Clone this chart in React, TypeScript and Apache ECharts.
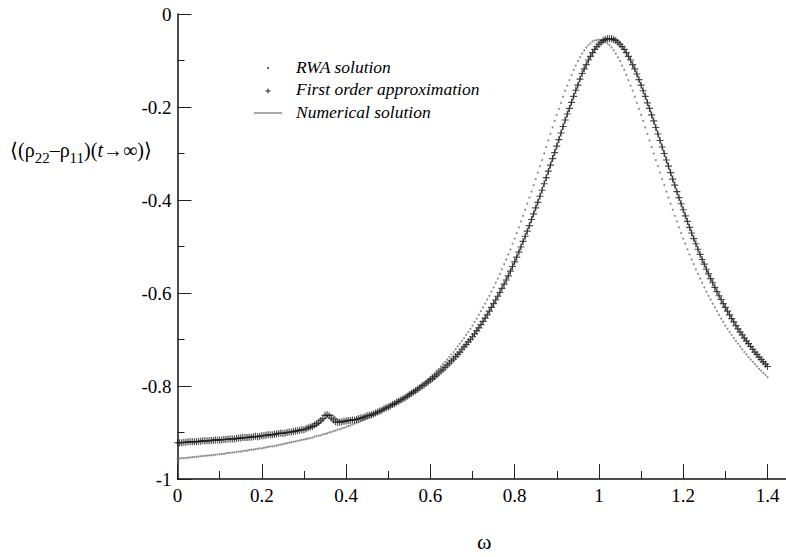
import React, { useEffect, useRef } from "react";
import * as echarts from "echarts";

// omega sampled from 0 to 1.40 in steps of 0.01, plus the in-between samples at 0.005 + 0.01k
const OMEGA_START = 0;
const OMEGA_MID_START = 0.005;
const OMEGA_STEP = 0.01;

const rwaSolution = [
  -0.956, -0.955, -0.955, -0.954, -0.953, -0.952, -0.951, -0.950, -0.949, -0.948,
  -0.947, -0.946, -0.944, -0.943, -0.942, -0.941, -0.939, -0.938, -0.937, -0.935,
  -0.934, -0.932, -0.930, -0.929, -0.927, -0.925, -0.923, -0.921, -0.919, -0.917,
  -0.915, -0.913, -0.911, -0.908, -0.906, -0.903, -0.900, -0.897, -0.894, -0.891,
  -0.888, -0.885, -0.881, -0.878, -0.874, -0.870, -0.866, -0.861, -0.857, -0.852,
  -0.847, -0.842, -0.836, -0.830, -0.824, -0.818, -0.811, -0.804, -0.797, -0.789,
  -0.781, -0.772, -0.763, -0.753, -0.743, -0.732, -0.721, -0.709, -0.697, -0.684,
  -0.670, -0.655, -0.639, -0.623, -0.606, -0.588, -0.569, -0.549, -0.528, -0.506,
  -0.483, -0.459, -0.434, -0.408, -0.382, -0.355, -0.327, -0.300, -0.272, -0.244,
  -0.217, -0.191, -0.165, -0.142, -0.120, -0.101, -0.085, -0.072, -0.063, -0.057,
  -0.055,
  -0.057, -0.063, -0.072, -0.085, -0.101, -0.120, -0.142, -0.165, -0.191, -0.217,
  -0.244, -0.272, -0.300, -0.327, -0.355, -0.382, -0.408, -0.434, -0.459, -0.483,
  -0.506, -0.528, -0.549, -0.569, -0.588, -0.606, -0.623, -0.639, -0.655, -0.670,
  -0.684, -0.697, -0.709, -0.721, -0.732, -0.743, -0.753, -0.763, -0.772, -0.781,
];

const rwaSolutionMid = [
  -0.956, -0.955, -0.954, -0.953, -0.952, -0.951, -0.950, -0.949, -0.948, -0.947,
  -0.946, -0.945, -0.944, -0.943, -0.941, -0.940, -0.939, -0.937, -0.936, -0.934,
  -0.933, -0.931, -0.930, -0.928, -0.926, -0.924, -0.922, -0.920, -0.918, -0.916,
  -0.914, -0.912, -0.909, -0.907, -0.904, -0.902, -0.899, -0.896, -0.893, -0.890,
  -0.886, -0.883, -0.879, -0.876, -0.872, -0.868, -0.863, -0.859, -0.854, -0.849,
  -0.844, -0.839, -0.833, -0.827, -0.821, -0.814, -0.808, -0.800, -0.793, -0.785,
  -0.776, -0.767, -0.758, -0.748, -0.738, -0.727, -0.715, -0.703, -0.690, -0.677,
  -0.662, -0.647, -0.631, -0.614, -0.597, -0.578, -0.559, -0.538, -0.517, -0.494,
  -0.471, -0.446, -0.421, -0.395, -0.368, -0.341, -0.314, -0.286, -0.258, -0.230,
  -0.204, -0.178, -0.154, -0.131, -0.111, -0.093, -0.078, -0.067, -0.059, -0.056,
  -0.056, -0.059, -0.067, -0.078, -0.093, -0.111, -0.131, -0.154, -0.178, -0.204,
  -0.230, -0.258, -0.286, -0.314, -0.341, -0.368, -0.395, -0.421, -0.446, -0.471,
  -0.494, -0.517, -0.538, -0.559, -0.578, -0.597, -0.614, -0.631, -0.647, -0.662,
  -0.677, -0.690, -0.703, -0.715, -0.727, -0.738, -0.748, -0.758, -0.767, -0.776,
];

const firstOrder = [
  -0.922, -0.922, -0.921, -0.920, -0.920, -0.919, -0.918, -0.918, -0.917, -0.916,
  -0.916, -0.915, -0.914, -0.914, -0.913, -0.912, -0.911, -0.910, -0.909, -0.909,
  -0.907, -0.906, -0.905, -0.904, -0.902, -0.902, -0.900, -0.899, -0.897, -0.895,
  -0.894, -0.890, -0.887, -0.881, -0.874, -0.863, -0.864, -0.873, -0.878, -0.877,
  -0.875, -0.874, -0.873, -0.870, -0.868, -0.864, -0.862, -0.858, -0.854, -0.849,
  -0.845, -0.840, -0.835, -0.830, -0.825, -0.819, -0.813, -0.807, -0.800, -0.794,
  -0.787, -0.780, -0.772, -0.764, -0.755, -0.746, -0.737, -0.727, -0.716, -0.705,
  -0.694, -0.681, -0.668, -0.654, -0.639, -0.623, -0.607, -0.590, -0.572, -0.553,
  -0.533, -0.512, -0.489, -0.467, -0.442, -0.417, -0.392, -0.365, -0.338, -0.311,
  -0.284, -0.256, -0.228, -0.203, -0.177, -0.153, -0.128, -0.109, -0.091, -0.076,
  -0.065,
  -0.057, -0.053, -0.053, -0.057, -0.065, -0.076, -0.091, -0.109, -0.129, -0.153,
  -0.177, -0.203, -0.230, -0.258, -0.286, -0.314, -0.341, -0.368, -0.395, -0.421,
  -0.446, -0.471, -0.494, -0.517, -0.538, -0.559, -0.578, -0.597, -0.614, -0.631,
  -0.647, -0.662, -0.677, -0.690, -0.703, -0.715, -0.727, -0.738, -0.748, -0.758,
];

const firstOrderMid = [
  -0.922, -0.921, -0.920, -0.920, -0.920, -0.919, -0.918, -0.918, -0.917, -0.916,
  -0.916, -0.915, -0.914, -0.914, -0.912, -0.911, -0.911, -0.910, -0.908, -0.908,
  -0.907, -0.905, -0.905, -0.903, -0.901, -0.901, -0.899, -0.898, -0.896, -0.894,
  -0.892, -0.888, -0.884, -0.878, -0.870, -0.862, -0.869, -0.877, -0.878, -0.876,
  -0.874, -0.873, -0.872, -0.869, -0.866, -0.863, -0.860, -0.856, -0.852, -0.847,
  -0.843, -0.838, -0.833, -0.828, -0.822, -0.816, -0.810, -0.804, -0.798, -0.791,
  -0.784, -0.776, -0.768, -0.760, -0.751, -0.742, -0.732, -0.721, -0.711, -0.700,
  -0.688, -0.675, -0.661, -0.647, -0.631, -0.615, -0.599, -0.581, -0.563, -0.543,
  -0.523, -0.501, -0.478, -0.455, -0.430, -0.405, -0.379, -0.352, -0.325, -0.298,
  -0.270, -0.242, -0.215, -0.190, -0.164, -0.140, -0.118, -0.099, -0.083, -0.070,
  -0.061, -0.055, -0.053, -0.055, -0.061, -0.070, -0.083, -0.099, -0.118, -0.141,
  -0.165, -0.191, -0.217, -0.244, -0.272, -0.300, -0.327, -0.355, -0.382, -0.408,
  -0.434, -0.459, -0.483, -0.506, -0.528, -0.549, -0.569, -0.588, -0.606, -0.623,
  -0.639, -0.655, -0.670, -0.684, -0.697, -0.709, -0.721, -0.732, -0.743, -0.753,
];

const numericalSolution = [
  -0.922, -0.922, -0.921, -0.920, -0.920, -0.919, -0.918, -0.918, -0.917, -0.916,
  -0.916, -0.915, -0.914, -0.914, -0.913, -0.912, -0.911, -0.910, -0.909, -0.909,
  -0.907, -0.906, -0.905, -0.904, -0.902, -0.902, -0.900, -0.899, -0.897, -0.895,
  -0.894, -0.892, -0.889, -0.885, -0.879, -0.870, -0.862, -0.863, -0.872, -0.877,
  -0.876, -0.874, -0.873, -0.870, -0.868, -0.864, -0.862, -0.858, -0.854, -0.849,
  -0.845, -0.840, -0.835, -0.830, -0.825, -0.819, -0.813, -0.807, -0.800, -0.794,
  -0.787, -0.780, -0.772, -0.764, -0.755, -0.746, -0.737, -0.727, -0.716, -0.705,
  -0.694, -0.681, -0.668, -0.654, -0.639, -0.623, -0.607, -0.590, -0.572, -0.553,
  -0.533, -0.512, -0.489, -0.467, -0.442, -0.417, -0.392, -0.365, -0.338, -0.311,
  -0.284, -0.256, -0.228, -0.203, -0.177, -0.153, -0.128, -0.109, -0.091, -0.076,
  -0.065,
  -0.057, -0.053, -0.053, -0.057, -0.065, -0.076, -0.091, -0.109, -0.129, -0.153,
  -0.177, -0.203, -0.230, -0.258, -0.286, -0.314, -0.341, -0.368, -0.395, -0.421,
  -0.446, -0.471, -0.494, -0.517, -0.538, -0.559, -0.578, -0.597, -0.614, -0.631,
  -0.647, -0.662, -0.677, -0.690, -0.703, -0.715, -0.727, -0.738, -0.748, -0.758,
];

const legendLabels = ["RWA solution", "First order approximation", "Numerical solution"];
const xAxisName = "ω";

const SERIF = "'Liberation Serif', 'Times New Roman', serif";
const PLUS_PATH =
  "path://M2.5,0 L3.5,0 L3.5,2.5 L6,2.5 L6,3.5 L3.5,3.5 L3.5,6 L2.5,6 L2.5,3.5 L0,3.5 L0,2.5 L2.5,2.5 Z";

const toPairs = (vals: number[], start: number) =>
  vals.map((v, i) => [+(start + i * OMEGA_STEP).toFixed(3), v]);

export default function App() {
  const ref = useRef<HTMLDivElement>(null);

  useEffect(() => {
    document.body.style.margin = "0";
    if (!ref.current) return;
    const chart = echarts.init(ref.current, undefined, { renderer: "svg" });

    const axisCommon = {
      axisLine: { show: true, onZero: false, lineStyle: { color: "#111", width: 1.5 } },
      splitLine: { show: false },
      axisLabel: { color: "#000", fontFamily: SERIF, fontSize: 19 },
    };

    const legendFont = { fontFamily: SERIF, fontStyle: "italic", fontSize: 17.5, fill: "#000" };

    chart.setOption({
      animation: false,
      backgroundColor: "#fff",
      textStyle: { fontFamily: SERIF },
      grid: { left: 177.5, right: 18.5, top: 14, bottom: 78, containLabel: false },
      xAxis: {
        type: "value",
        min: 0,
        max: 1.4,
        interval: 0.2,
        ...axisCommon,
        axisLabel: { ...axisCommon.axisLabel, margin: 7 },
        axisTick: { show: true, inside: true, length: 15, lineStyle: { color: "#222", width: 1 } },
        minorTick: { show: true, splitNumber: 2, length: 8, lineStyle: { color: "#222", width: 1 } },
      },
      yAxis: {
        type: "value",
        min: -1,
        max: 0,
        interval: 0.2,
        ...axisCommon,
        axisLabel: { ...axisCommon.axisLabel, margin: 6 },
        axisTick: { show: true, inside: true, length: 14, lineStyle: { color: "#222", width: 1 } },
        minorTick: { show: true, splitNumber: 2, length: 7, lineStyle: { color: "#222", width: 1 } },
      },
      series: [
        {
          name: legendLabels[0],
          type: "scatter",
          data: toPairs(rwaSolution, OMEGA_START).concat(toPairs(rwaSolutionMid, OMEGA_MID_START)),
          symbol: "circle",
          symbolSize: 2,
          itemStyle: { color: "#6e6e6e" },
          z: 2,
        },
        {
          name: legendLabels[2],
          type: "line",
          data: toPairs(numericalSolution, OMEGA_START),
          showSymbol: false,
          symbol: "none",
          lineStyle: { color: "#444", width: 1 },
          z: 3,
        },
        {
          name: legendLabels[1],
          type: "scatter",
          data: toPairs(firstOrder, OMEGA_START).concat(toPairs(firstOrderMid, OMEGA_MID_START)),
          symbol: PLUS_PATH,
          symbolSize: 7,
          symbolKeepAspect: true,
          itemStyle: { color: "#1e1e1e" },
          z: 4,
        },
      ],
      graphic: [
        {
          type: "line",
          shape: { x1: 767.5, y1: 479, x2: 786, y2: 479 },
          style: { stroke: "#111", lineWidth: 1.5 },
        },
        {
          type: "circle",
          shape: { cx: 268, cy: 68, r: 1 },
          style: { fill: "#444" },
        },
        {
          type: "rect",
          shape: { x: 265.5, y: 90.5, width: 5, height: 1 },
          style: { fill: "#222" },
        },
        {
          type: "rect",
          shape: { x: 267.5, y: 88.5, width: 1, height: 5 },
          style: { fill: "#222" },
        },
        {
          type: "line",
          shape: { x1: 254, y1: 113, x2: 282, y2: 113 },
          style: { stroke: "#555", lineWidth: 1 },
        },
        { type: "text", left: 296, top: 58, style: { text: legendLabels[0], ...legendFont } },
        { type: "text", left: 296, top: 80, style: { text: legendLabels[1], ...legendFont } },
        { type: "text", left: 296, top: 103, style: { text: legendLabels[2], ...legendFont } },
        {
          type: "text",
          left: 10,
          top: 140,
          style: {
            text: "{m|⟨(ρ}{s|22}{m|–ρ}{s|11}{m|)(}{i|t}{m|→∞)⟩}",
            fill: "#000",
            rich: {
              m: { fontFamily: SERIF, fontSize: 20, lineHeight: 30, verticalAlign: "middle", fill: "#000" },
              i: { fontFamily: SERIF, fontStyle: "italic", fontSize: 20, lineHeight: 30, verticalAlign: "middle", fill: "#000" },
              s: { fontFamily: SERIF, fontSize: 15, lineHeight: 15, verticalAlign: "bottom", fill: "#000" },
            },
          },
        },
        {
          type: "text",
          left: 477,
          top: 530,
          style: { text: xAxisName, fontFamily: SERIF, fontSize: 22, fill: "#000" },
        },
      ],
    });

    return () => chart.dispose();
  }, []);

  return <div ref={ref} style={{ width: 786, height: 557 }} />;
}
